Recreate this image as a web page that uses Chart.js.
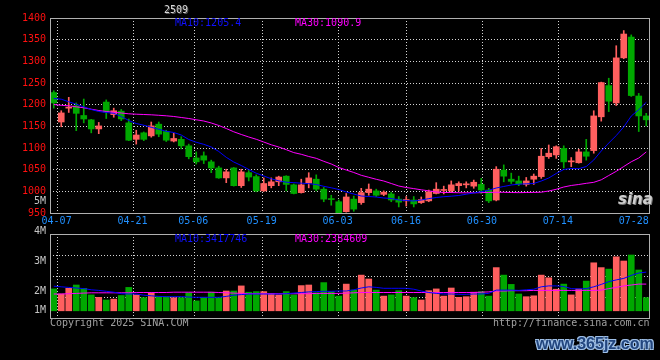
<!DOCTYPE html>
<html><head><meta charset="utf-8">
<script src="https://cdn.jsdelivr.net/npm/chart.js@4.4.1/dist/chart.umd.min.js"></script>
<style>
html,body{margin:0;padding:0;background:#000;}
#wrap{position:relative;width:660px;height:360px;background:#000;overflow:hidden;font-family:"DejaVu Sans Mono",monospace;font-size:10px;line-height:12px;}
canvas{position:absolute;left:0;}
#cp{top:0}
#cv{top:190px}
.t{position:absolute;white-space:pre;}
</style></head><body>
<div id="wrap">
<canvas id="cp" width="660" height="232"></canvas>
<canvas id="cv" width="660" height="170"></canvas>
<div class="t" style="left:164px;top:4px;color:#d8d8d8;text-shadow:1px 1px 0 #555">2509</div>
<div class="t" style="left:175px;top:17px;color:#1010ff">MA10:1205.4</div>
<div class="t" style="left:295px;top:17px;color:#ff00ff">MA30:1090.9</div>
<div class="t" style="left:175px;top:233px;color:#1010ff">MA10:3417746</div>
<div class="t" style="left:295px;top:233px;color:#ff00ff">MA30:2384609</div>
<div class="t" style="left:50px;top:317px;color:#a0a0a0">Copyright 2025 SINA.COM</div>
<div class="t" style="left:493px;top:317px;color:#a0a0a0">http://finance.sina.com.cn</div>
<div class="t" style="left:618px;top:191px;color:#cfcfcf;font:italic bold 15px 'DejaVu Sans',sans-serif;line-height:16px;text-shadow:1px 1px 0 #777">sina</div>
<div class="t" style="left:536px;top:334px;color:#23467e;font:bold 16px 'Liberation Sans',sans-serif;line-height:20px;text-shadow:-1px -1px 0 #9fc0e8,1px -1px 0 #9fc0e8,-1px 1px 0 #9fc0e8,1px 1px 0 #9fc0e8">www.365jz.com</div>
</div>
<script>
const dates = ['04-03','04-07','04-08','04-09','04-10','04-11','04-14','04-15','04-16','04-17','04-18',
 '04-21','04-22','04-23','04-24','04-25','04-28','04-29','04-30',
 '05-06','05-07','05-08','05-09','05-12','05-13','05-14','05-15','05-16','05-19','05-20','05-21','05-22','05-23',
 '05-26','05-27','05-28','05-29','05-30',
 '06-03','06-04','06-05','06-06','06-09','06-10','06-11','06-12','06-13','06-16','06-17','06-18','06-19','06-20',
 '06-23','06-24','06-25','06-26','06-27','06-30',
 '07-01','07-02','07-03','07-04','07-07','07-08','07-09','07-10','07-11','07-14','07-15','07-16','07-17','07-18',
 '07-21','07-22','07-23','07-24','07-25','07-28','07-29','07-30'];

const open = [1228,1160,1192,1197,1175,1165,1144,1206,1177,1185,
 1158,1120,1135,1128,1155,1138,1116,1120,1105,1077,
 1082,1068,1054,1031,1054,1013,1043,1034,1001,1013,
 1022,1035,1015,997,1019,1028,1005,982,976,953,
 982,974,997,1001,993,994,982,978,980,974,
 978,995,1002,1001,1013,1015,1012,1016,1003,980,
 1049,1028,1024,1016,1028,1034,1080,1084,1099,1068,
 1066,1091,1094,1172,1244,1204,1308,1356,1220,1174];
const high = [1232,1186,1217,1204,1213,1166,1159,1211,1192,1189,
 1167,1141,1137,1160,1160,1141,1134,1126,1109,1091,
 1091,1072,1058,1051,1055,1051,1048,1038,1031,1031,
 1035,1036,1017,1028,1043,1038,1009,991,980,995,
 989,1007,1017,1005,1001,998,988,988,988,987,
 1003,1020,1012,1024,1022,1022,1026,1030,1007,1057,
 1061,1042,1035,1032,1040,1099,1107,1105,1105,1078,
 1097,1120,1186,1252,1261,1336,1371,1361,1226,1180];
const low = [1192,1149,1182,1140,1158,1135,1133,1168,1171,1163,
 1117,1109,1117,1125,1126,1115,1114,1098,1075,1063,
 1064,1043,1030,1020,1012,1009,1024,999,1000,1008,
 1013,1001,994,996,1008,1001,976,968,949,952,
 954,970,991,988,990,976,964,966,964,972,
 976,994,994,997,1001,1008,1007,995,974,978,
 1022,1018,1013,1012,1016,1030,1076,1076,1054,1057,
 1065,1072,1088,1162,1184,1198,1306,1219,1138,1151];
const close = [1204,1181,1194,1180,1167,1144,1151,1183,1186,1167,
 1118,1130,1120,1151,1132,1118,1122,1105,1080,1068,
 1072,1054,1031,1045,1013,1045,1033,1001,1018,1022,
 1033,1016,995,1015,1031,1005,982,981,950,987,
 959,997,1005,991,998,980,975,981,971,981,
 999,1005,1004,1015,1018,1016,1021,1003,978,1051,
 1035,1023,1017,1024,1035,1081,1088,1103,1068,1069,
 1091,1081,1174,1251,1208,1308,1363,1221,1174,1165];

const ma10 = [1214.2,1212.6,1206.6,1201.0,1195.0,1188.8,1184.2,1181.9,1180.0,1172.7,
 1163.5,1156.5,1152.6,1147.8,1143.2,1138.5,1135.8,1130.0,1119.6,1113.2,
 1108.5,1102.3,1092.0,1078.5,1067.7,1059.6,1050.4,1041.8,1035.4,1029.0,
 1024.3,1021.1,1020.0,1018.8,1017.7,1015.8,1011.6,1008.2,1004.2,998.5,
 993.8,989.2,988.0,986.9,984.6,983.5,980.0,978.9,977.7,980.0,
 983.2,985.8,987.6,988.8,990.4,993.4,996.2,999.2,1002.4,1007.7,
 1011.2,1014.6,1016.5,1017.4,1018.1,1023.8,1030.8,1041.2,1050.4,1052.7,
 1052.2,1057.3,1072.3,1093.1,1111.5,1128.8,1148.5,1173.8,1188.5,1205.4];
const ma30 = [1200.4,1198.5,1197.4,1195.0,1192.8,1189.5,1186.5,1184.2,1182.4,1180.8,
 1178.9,1178.0,1177.3,1176.6,1175.5,1174.3,1172.7,1170.4,1168.1,1165.1,
 1162.3,1157.7,1152.0,1145.0,1137.4,1131.2,1125.4,1120.1,1113.8,1107.4,
 1102.3,1096.1,1089.4,1085.5,1080.4,1076.2,1069.3,1063.1,1055.0,1049.2,
 1043.5,1037.0,1032.4,1027.8,1023.8,1018.1,1012.3,1008.8,1006.3,1003.5,
 1001.2,998.5,997.3,997.3,996.8,996.6,996.6,997.0,997.5,997.8,
 997.8,997.3,997.0,997.3,997.5,998.0,1000.8,1004.7,1010.0,1013.5,
 1015.8,1018.5,1020.8,1026.6,1036.5,1046.2,1057.3,1068.2,1076.9,1090.9];

const volume = [2070000,1900000,2090000,2200000,2090000,1870000,1790000,1700000,1730000,1850000,
 2120000,1870000,1780000,1940000,1810000,1810000,1780000,1780000,1940000,1670000,
 1790000,1960000,1780000,2000000,2000000,2170000,1960000,1980000,1980000,1920000,
 1870000,1980000,1870000,2180000,2200000,1940000,2280000,1980000,1830000,2230000,
 2030000,2530000,2400000,2030000,1830000,1870000,2010000,1830000,1780000,1700000,
 2010000,2070000,1830000,2100000,1790000,1810000,1960000,1980000,1830000,2780000,
 2530000,2220000,1900000,1810000,1840000,2530000,2440000,2060000,2230000,1870000,
 2070000,2330000,2940000,2780000,2730000,3140000,3000000,3200000,2700000,1780000];
const volMa10 = [2160000,2140000,2120000,2100000,2080000,2040000,2020000,1990000,1960000,1910000,
 1900000,1900000,1860000,1840000,1820000,1810000,1810000,1810000,1800000,1790000,
 1790000,1790000,1790000,1820000,1860000,1880000,1900000,1900000,1900000,1900000,
 1900000,1910000,1930000,1950000,1970000,1980000,1990000,1990000,2000000,2000000,
 2040000,2100000,2140000,2120000,2090000,2090000,2090000,2090000,2060000,2000000,
 1950000,1920000,1900000,1900000,1890000,1890000,1900000,1900000,1920000,2030000,
 2030000,2030000,2020000,2040000,2060000,2140000,2170000,2170000,2150000,2080000,
 2070000,2080000,2140000,2220000,2310000,2370000,2420000,2520000,2600000,2630000];
const volMa30 = [1900000,1900000,1910000,1920000,1930000,1940000,1940000,1940000,1940000,1940000,
 1940000,1950000,1950000,1950000,1950000,1950000,1960000,1960000,1960000,1960000,
 1960000,1960000,1950000,1940000,1930000,1920000,1910000,1910000,1910000,1910000,
 1910000,1910000,1910000,1910000,1910000,1920000,1920000,1920000,1920000,1930000,
 1940000,1950000,1950000,1950000,1950000,1950000,1950000,1950000,1950000,1950000,
 1950000,1950000,1950000,1950000,1950000,1950000,1950000,1960000,1970000,2000000,
 2000000,2010000,2010000,2010000,2020000,2020000,2020000,2020000,2020000,2020000,
 2020000,2020000,2020000,2030000,2080000,2120000,2170000,2200000,2230000,2230000];

const dateTicks = ['04-07','04-21','05-06','05-19','06-03','06-16','06-30','07-14','07-28'];
const volTickValues = [5000000,4000000,3000000,2000000,1000000];
const volTickLabels = ['5M','4M','3M','2M','1M'];

// ---- rendering ----
const UP = '#ff5f5f', DOWN = '#00a800';
const FONT = {family:'DejaVu Sans Mono', size:10};
const N = dates.length;
const xs = dates.map((d,i) => i + 0.5);
const colors = close.map((c,i) => c >= open[i] ? UP : DOWN);
const gridPos = dateTicks.map(d => dates.indexOf(d) * N / (N - 1));
const lastTick = dateTicks.length - 1;
const volFloor = 1340000;

function xAxis(showLabels){
  return {
    type:'linear', min:0, max:N, offset:false,
    afterBuildTicks: s => { s.ticks = gridPos.map(v => ({value:v})); },
    ticks:{display:showLabels, autoSkip:false, maxRotation:0, padding:2, labelOffset:-1,
      color:'#2190ff', font:FONT, callback:(v,i) => dateTicks[i]},
    grid:{offset:false, color: c => c.index === lastTick ? 'rgba(0,0,0,0)' : '#d4d4d4', lineWidth:1, drawTicks:false},
    border:{display:false, dash:[1,2]},
    afterFit: s => { s.height = showLabels ? 19 : 0; }
  };
}

const framePlugin = {
  id:'frame',
  afterDraw(chart){
    const {ctx, chartArea:a} = chart;
    ctx.save();
    ctx.strokeStyle = '#b0b0b0';
    ctx.lineWidth = 1;
    ctx.strokeRect(Math.round(a.left)+0.5, Math.round(a.top)+0.5,
      Math.round(a.right - a.left) - 1, Math.round(a.bottom - a.top));
    ctx.restore();
  }
};

const volLabelPlugin = {
  id:'volLabels',
  afterDraw(chart){
    const {ctx, chartArea:a} = chart;
    const ys = chart.scales.y;
    ctx.save();
    ctx.font = '10px "DejaVu Sans Mono"';
    ctx.fillStyle = '#c4c4c4';
    ctx.textAlign = 'right';
    ctx.textBaseline = 'middle';
    volTickValues.forEach((v,i) => {
      const y = Math.min(ys.getPixelForValue(v), a.bottom - 7.5);
      ctx.fillText(volTickLabels[i], 46, y);
    });
    ctx.restore();
  }
};

const common = {
  responsive:false, animation:false, devicePixelRatio:1,
  plugins:{legend:{display:false}, tooltip:{enabled:false}}
};

new Chart(document.getElementById('cp'), {
  type:'bar',
  data:{datasets:[
    {type:'line', data:xs.map((x,i)=>({x, y:ma10[i]})), borderColor:'#0000ff', borderWidth:1, pointRadius:0, tension:0, order:0},
    {type:'line', data:xs.map((x,i)=>({x, y:ma30[i]})), borderColor:'#ff00ff', borderWidth:1, pointRadius:0, tension:0, order:0},
    {type:'bar', data:xs.map((x,i)=>({x, y:[open[i], close[i]]})), backgroundColor:colors, barThickness:6, minBarLength:1, grouped:false, order:1},
    {type:'bar', data:xs.map((x,i)=>({x, y:[low[i], high[i]]})), backgroundColor:colors, barThickness:1, grouped:false, order:2}
  ]},
  options:Object.assign({}, common, {
    layout:{padding:{left:0, right:10, top:18, bottom:0}},
    scales:{
      x: xAxis(true),
      y: {type:'linear', min:950, max:1400,
          ticks:{stepSize:50, color:'#ff1010', padding:4, font:FONT, callback: v => String(v)},
          grid:{color:'#d4d4d4', drawTicks:false},
          border:{display:false, dash:[1,2]},
          afterFit: s => { s.width = 50; }}
    }
  }),
  plugins:[framePlugin]
});

new Chart(document.getElementById('cv'), {
  type:'bar',
  data:{datasets:[
    {type:'line', data:xs.map((x,i)=>({x, y:volMa10[i]})), borderColor:'#0000ff', borderWidth:1, pointRadius:0, tension:0, order:0},
    {type:'line', data:xs.map((x,i)=>({x, y:volMa30[i]})), borderColor:'#ff00ff', borderWidth:1, pointRadius:0, tension:0, order:0},
    {type:'bar', data:xs.map((x,i)=>({x, y:volume[i]})), base:volFloor, backgroundColor:colors, barThickness:6, grouped:false, order:1}
  ]},
  options:Object.assign({}, common, {
    layout:{padding:{left:50, right:10, top:44, bottom:42}},
    scales:{
      x: xAxis(false),
      y: {type:'linear', min:1100000, max:3900000,
          afterBuildTicks: s => { s.ticks = [1,2,3].map(k => ({value: s.min + (s.max - s.min) * k / 4})); },
          ticks:{display:false},
          grid:{color:'#d4d4d4', drawTicks:false},
          border:{display:false, dash:[1,2]},
          afterFit: s => { s.width = 0; }}
    }
  }),
  plugins:[framePlugin, volLabelPlugin]
});
</script>
</body></html>
